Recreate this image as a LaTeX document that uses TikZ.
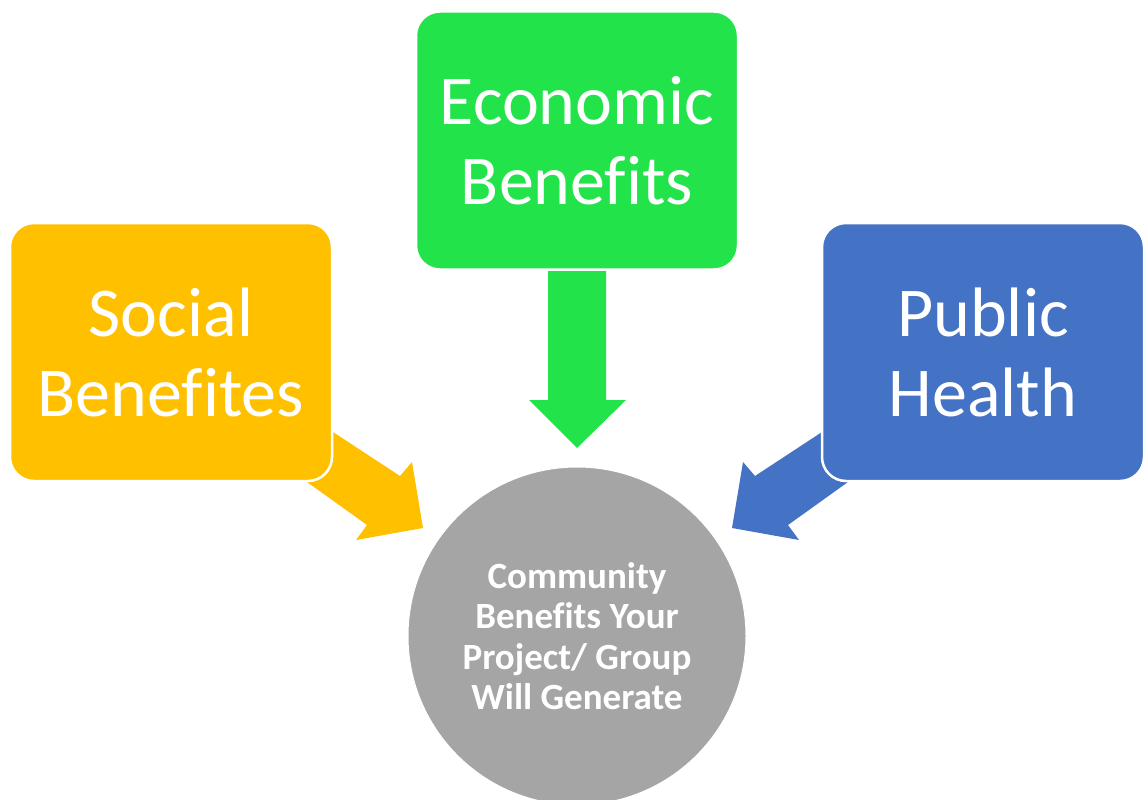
\documentclass[tikz,border=0pt]{standalone}
\usepackage{fontspec}
\setmainfont{Carlito}[RawFeature={-liga,-clig}]
\newcommand{\fibreak}{f\kern0pt i}
\definecolor{cyellow}{HTML}{FFC000}
\definecolor{cgreen}{HTML}{23E34B}
\definecolor{cblue}{HTML}{4472C4}
\definecolor{cgray}{HTML}{A5A5A5}
\tikzset{
  bigbox/.style={rectangle, rounded corners=24pt, draw=white, line width=2.5pt,
    minimum width=322pt, minimum height=258pt, align=center, text=white,
    font=\fontsize{70}{80}\selectfont, inner sep=0pt},
  hub/.style={circle, fill=cgray, draw=white, line width=1pt, minimum size=338pt,
    align=center, text=white, font=\bfseries\fontsize{37}{40.5}\selectfont, inner sep=0pt}
}
\begin{document}
\begin{tikzpicture}[x=1pt,y=-1pt]
\useasboundingbox (0,0) rectangle (1143,800);
% arrows (behind boxes)
\fill[cyellow] (266,388) -- (400,476) -- (412,462) -- (423,528) -- (356,540) -- (367,525) -- (247,439) -- cycle;
\fill[cblue] (889,388) -- (755,476) -- (743,462) -- (732,528) -- (799,540) -- (788,525) -- (908,439) -- cycle;
\fill[cgreen] (548,250) -- (606,250) -- (606,400) -- (626,400) -- (577,448) -- (529,400) -- (548,400) -- cycle;
% boxes
\node[bigbox, fill=cyellow] (social) at (171,352) {Social\\Bene\fibreak tes};
\node[bigbox, fill=cgreen] (econ) at (577,140.5) {Economic\\Bene\fibreak ts};
\node[bigbox, fill=cblue] (health) at (983,352) {Public\\Health};
% hub
\node[hub] (hubc) at (577,636) {Community\\Bene\fibreak ts Your\\Project/ Group\\Will Generate};
\end{tikzpicture}
\end{document}
